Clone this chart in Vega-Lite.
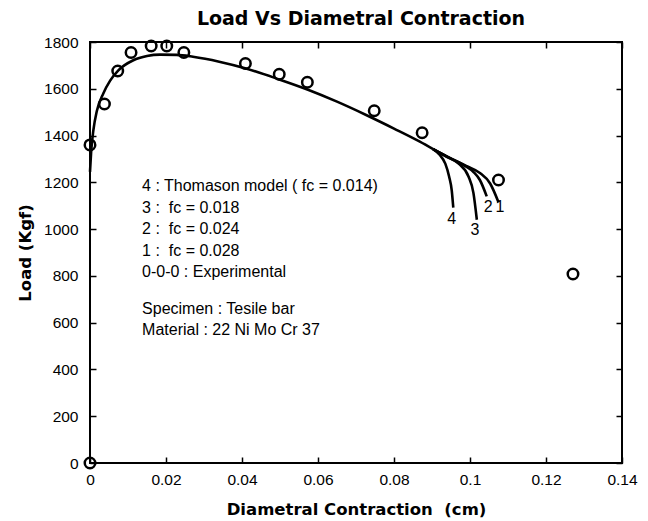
{
  "$schema": "https://vega.github.io/schema/vega-lite/v6.json",
  "width": 532,
  "height": 421,
  "autosize": {"type": "none"},
  "padding": {"left": 90, "top": 42, "right": 26, "bottom": 58},
  "background": "white",
  "title": {
    "text": "Load Vs Diametral Contraction",
    "font": "DejaVu Sans",
    "fontSize": 19,
    "fontWeight": "bold",
    "color": "black",
    "anchor": "middle",
    "offset": 6,
    "dx": 5
  },
  "config": {
    "view": {"stroke": "black", "strokeWidth": 2},
    "axis": {
      "grid": false,
      "domain": false,
      "offset": -6,
      "tickColor": "black",
      "tickSize": 6,
      "tickWidth": 1.5,
      "labelFlush": false,
      "labelColor": "black",
      "labelFont": "Liberation Sans",
      "labelFontSize": 15.5,
      "titleColor": "black",
      "titleFont": "DejaVu Sans",
      "titleFontWeight": "bold",
      "titleFontSize": 16.5
    }
  },
  "datasets": {
    "exp": [
      {"dc": 0, "load": 0},
      {"dc": 0, "load": 1360},
      {"dc": 0.0038, "load": 1535},
      {"dc": 0.0073, "load": 1676},
      {"dc": 0.0108, "load": 1755},
      {"dc": 0.0161, "load": 1783},
      {"dc": 0.0202, "load": 1783},
      {"dc": 0.0247, "load": 1755},
      {"dc": 0.0409, "load": 1708},
      {"dc": 0.0498, "load": 1662},
      {"dc": 0.0572, "load": 1628},
      {"dc": 0.0748, "load": 1506},
      {"dc": 0.0874, "load": 1412},
      {"dc": 0.1075, "load": 1210},
      {"dc": 0.1271, "load": 808}
    ],
    "model": [
      {"curve": "main", "dc": 0, "load": 1245},
      {"curve": "main", "dc": 0.0003, "load": 1330},
      {"curve": "main", "dc": 0.0009, "load": 1424},
      {"curve": "main", "dc": 0.0018, "load": 1505},
      {"curve": "main", "dc": 0.0035, "load": 1580},
      {"curve": "main", "dc": 0.0053, "load": 1635},
      {"curve": "main", "dc": 0.0074, "load": 1678},
      {"curve": "main", "dc": 0.0114, "load": 1722},
      {"curve": "main", "dc": 0.015, "load": 1740},
      {"curve": "main", "dc": 0.0184, "load": 1746},
      {"curve": "main", "dc": 0.0228, "load": 1745},
      {"curve": "main", "dc": 0.0271, "load": 1737},
      {"curve": "main", "dc": 0.034, "load": 1716},
      {"curve": "main", "dc": 0.0408, "load": 1688},
      {"curve": "main", "dc": 0.0498, "load": 1640},
      {"curve": "main", "dc": 0.0572, "load": 1597},
      {"curve": "main", "dc": 0.065, "load": 1545},
      {"curve": "main", "dc": 0.0728, "load": 1487},
      {"curve": "main", "dc": 0.08, "load": 1430},
      {"curve": "main", "dc": 0.0868, "load": 1374},
      {"curve": "main", "dc": 0.0903, "load": 1342},
      {"curve": "4", "dc": 0.0903, "load": 1342},
      {"curve": "4", "dc": 0.092, "load": 1318},
      {"curve": "4", "dc": 0.0935, "load": 1280},
      {"curve": "4", "dc": 0.0945, "load": 1225},
      {"curve": "4", "dc": 0.0952, "load": 1165},
      {"curve": "4", "dc": 0.0956, "load": 1092},
      {"curve": "3", "dc": 0.0903, "load": 1342},
      {"curve": "3", "dc": 0.094, "load": 1308},
      {"curve": "3", "dc": 0.097, "load": 1280},
      {"curve": "3", "dc": 0.0996, "load": 1225},
      {"curve": "3", "dc": 0.1009, "load": 1155},
      {"curve": "3", "dc": 0.1018, "load": 1040},
      {"curve": "2", "dc": 0.0903, "load": 1342},
      {"curve": "2", "dc": 0.094, "load": 1310},
      {"curve": "2", "dc": 0.0985, "load": 1272},
      {"curve": "2", "dc": 0.101, "load": 1243},
      {"curve": "2", "dc": 0.1026, "load": 1210},
      {"curve": "2", "dc": 0.1044, "load": 1140},
      {"curve": "1", "dc": 0.0903, "load": 1342},
      {"curve": "1", "dc": 0.094, "load": 1310},
      {"curve": "1", "dc": 0.099, "load": 1270},
      {"curve": "1", "dc": 0.1026, "load": 1240},
      {"curve": "1", "dc": 0.1053, "load": 1195},
      {"curve": "1", "dc": 0.1075, "load": 1115}
    ],
    "notes": [
      {"dc": 0.0137, "load": 1184, "text": "4 : Thomason model ( fc = 0.014)"},
      {"dc": 0.0137, "load": 1090, "text": "3 :\u00a0 fc = 0.018"},
      {"dc": 0.0137, "load": 1000, "text": "2 :\u00a0 fc = 0.024"},
      {"dc": 0.0137, "load": 906, "text": "1 :\u00a0 fc = 0.028"},
      {"dc": 0.0137, "load": 817, "text": "0-0-0 : Experimental"},
      {"dc": 0.0137, "load": 658, "text": "Specimen : Tesile bar"},
      {"dc": 0.0137, "load": 569, "text": "Material : 22 Ni Mo Cr 37"}
    ],
    "tags": [
      {"dc": 0.0952, "load": 1043, "text": "4"},
      {"dc": 0.1013, "load": 996, "text": "3"},
      {"dc": 0.1048, "load": 1094, "text": "2"},
      {"dc": 0.1079, "load": 1094, "text": "1"}
    ]
  },
  "layer": [
    {
      "data": {"name": "model"},
      "mark": {"type": "line", "interpolate": "monotone", "color": "black", "strokeWidth": 2.6},
      "encoding": {
        "x": {
          "field": "dc", "type": "quantitative",
          "scale": {"domain": [0, 0.14], "nice": false, "zero": true},
          "axis": {
            "orient": "bottom",
            "values": [0, 0.02, 0.04, 0.06, 0.08, 0.1, 0.12, 0.14],
            "format": "~g",
            "labelPadding": 9,
            "title": "Diametral Contraction \u00a0(cm)",
            "titleY": 52,
            "titleBaseline": "middle"
          }
        },
        "y": {
          "field": "load", "type": "quantitative",
          "scale": {"domain": [0, 1800], "nice": false, "zero": true},
          "axis": {
            "orient": "left",
            "values": [0, 200, 400, 600, 800, 1000, 1200, 1400, 1600, 1800],
            "format": "d",
            "labelPadding": 12,
            "title": "Load (Kgf)",
            "titleX": -71,
            "titleY": 210.5,
            "titleBaseline": "middle"
          }
        },
        "detail": {"field": "curve"}
      }
    },
    {
      "data": {"name": "exp"},
      "mark": {"type": "point", "shape": "circle", "filled": false, "stroke": "black", "strokeWidth": 2.5, "size": 110, "opacity": 1},
      "encoding": {
        "x": {"field": "dc", "type": "quantitative", "axis": null},
        "y": {"field": "load", "type": "quantitative", "axis": null}
      }
    },
    {
      "data": {"name": "notes"},
      "mark": {"type": "text", "align": "left", "baseline": "middle", "font": "Liberation Sans", "fontSize": 16, "color": "black"},
      "encoding": {
        "x": {"field": "dc", "type": "quantitative", "axis": null},
        "y": {"field": "load", "type": "quantitative", "axis": null},
        "text": {"field": "text"}
      }
    },
    {
      "data": {"name": "tags"},
      "mark": {"type": "text", "align": "center", "baseline": "middle", "font": "Liberation Sans", "fontSize": 16, "color": "black"},
      "encoding": {
        "x": {"field": "dc", "type": "quantitative", "axis": null},
        "y": {"field": "load", "type": "quantitative", "axis": null},
        "text": {"field": "text"}
      }
    },
    {
      "data": {"name": "exp"},
      "mark": {"type": "point", "opacity": 0},
      "encoding": {
        "x": {
          "field": "dc", "type": "quantitative",
          "axis": {"orient": "top", "values": [0, 0.02, 0.04, 0.06, 0.08, 0.1, 0.12, 0.14], "labels": false, "title": null}
        },
        "y": {
          "field": "load", "type": "quantitative",
          "axis": {"orient": "right", "values": [0, 200, 400, 600, 800, 1000, 1200, 1400, 1600, 1800], "labels": false, "title": null}
        }
      }
    }
  ],
  "resolve": {"axis": {"x": "independent", "y": "independent"}}
}
